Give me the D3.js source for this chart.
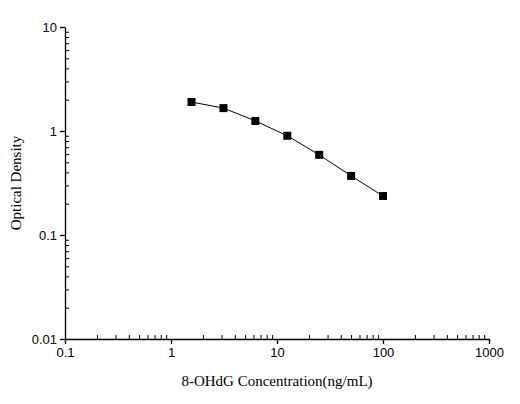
<!DOCTYPE html>
<html><head><meta charset="utf-8">
<script src="https://cdn.jsdelivr.net/npm/d3@7"></script>
<style>body{margin:0;background:#fff}</style>
</head><body><div id="chart"></div>
<script>
const concentration = [1.5625, 3.125, 6.25, 12.5, 25, 50, 100];
const opticalDensity = [1.9, 1.66, 1.25, 0.9, 0.59, 0.37, 0.237];
const xTicks = [0.1, 1, 10, 100, 1000];
const yTicks = [0.01, 0.1, 1, 10];

const WIDTH = 520, HEIGHT = 404;
const LEFT = 65, RIGHT = 489, TOP = 27, BOTTOM = 339;

const svg = d3.select('#chart').append('svg').attr('width', WIDTH).attr('height', HEIGHT);

const xScale = d3.scaleLog().domain([0.1, 1000]).range([LEFT, RIGHT]);
const yScale = d3.scaleLog().domain([0.01, 10]).range([BOTTOM, TOP]);

const minor = (ticks) => {
  const out = [];
  for (let i = 0; i < ticks.length - 1; i++) {
    for (let k = 2; k <= 9; k++) out.push(ticks[i] * k);
  }
  return out;
};

// minor ticks point inward
svg.append('g').attr('transform', `translate(0,${BOTTOM})`)
  .call(d3.axisTop(xScale).tickValues(minor(xTicks)).tickSize(4).tickFormat(''))
  .call((g) => g.select('.domain').remove());
svg.append('g').attr('transform', `translate(${LEFT},0)`)
  .call(d3.axisRight(yScale).tickValues(minor(yTicks)).tickSize(4).tickFormat(''))
  .call((g) => g.select('.domain').remove());

const xAxis = svg.append('g').attr('transform', `translate(0,${BOTTOM})`)
  .call(d3.axisBottom(xScale).tickValues(xTicks).tickSize(5).tickSizeOuter(0).tickPadding(4).tickFormat((d) => String(d)));
const yAxis = svg.append('g').attr('transform', `translate(${LEFT},0)`)
  .call(d3.axisLeft(yScale).tickValues(yTicks).tickSize(5).tickSizeOuter(0).tickPadding(3).tickFormat((d) => String(d)));

[xAxis, yAxis].forEach((g) => {
  g.selectAll('text').attr('font-family', 'Liberation Sans, Arial, sans-serif').attr('font-size', 13).attr('fill', '#000');
  g.selectAll('line, path').attr('stroke', '#000').attr('stroke-width', 1.3);
});
svg.selectAll('line').attr('stroke', '#000');

svg.append('path')
  .datum(concentration.map((c, i) => [c, opticalDensity[i]]))
  .attr('fill', 'none').attr('stroke', '#000').attr('stroke-width', 1)
  .attr('d', d3.line().x((d) => xScale(d[0])).y((d) => yScale(d[1])));

svg.selectAll('rect.pt')
  .data(concentration.map((c, i) => [c, opticalDensity[i]]))
  .join('rect').attr('class', 'pt')
  .attr('x', (d) => xScale(d[0]) - 4).attr('y', (d) => yScale(d[1]) - 4)
  .attr('width', 8).attr('height', 8).attr('fill', '#000');

svg.append('text').attr('x', (LEFT + RIGHT) / 2).attr('y', 386).attr('text-anchor', 'middle')
  .attr('font-family', 'Liberation Serif, Times New Roman, serif').attr('font-size', 15)
  .text('8-OHdG Concentration(ng/mL)');
svg.append('text').attr('transform', `translate(21,${(TOP + BOTTOM) / 2}) rotate(-90)`).attr('text-anchor', 'middle')
  .attr('font-family', 'Liberation Serif, Times New Roman, serif').attr('font-size', 15)
  .text('Optical Density');
</script></body></html>
